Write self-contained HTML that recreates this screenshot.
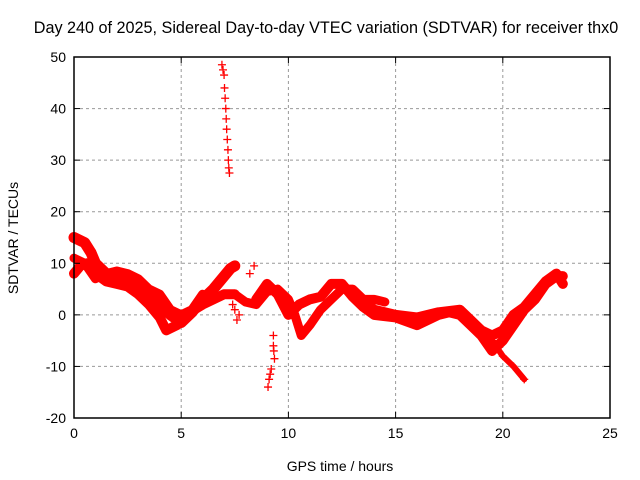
<!DOCTYPE html>
<html><head><meta charset="utf-8"><style>
body{margin:0;background:#fff}
svg{display:block;font-family:"Liberation Sans",sans-serif}
</style></head><body>
<svg id="chart" width="640" height="480">
<text x="326" y="33" font-size="16.2" text-anchor="middle">Day 240 of 2025, Sidereal Day-to-day VTEC variation (SDTVAR) for receiver thx0</text>
<g id="grid"></g><g id="series"></g><g id="axes"></g>
<text x="340" y="471" font-size="14" text-anchor="middle">GPS time / hours</text>
<text x="18" y="238" font-size="14" text-anchor="middle" transform="rotate(-90 18 238)">SDTVAR / TECUs</text>
</svg>
<script>
const xTicks=[0,5,10,15,20,25];
const yTicks=[-20,-10,0,10,20,30,40,50];
const trackA=[[0,15],[0.5,14],[0.8,12],[1,10],[1.5,8],[2,7.5],[2.5,7],[3,6],[3.5,4],[4,2],[4.5,0],[5,-1.5],[5.5,0.5],[6,3],[6.5,5],[7,7.5],[7.3,9],[7.5,9.5]];
const trackB=[[0,8],[0.3,9.5],[0.6,10],[1,8],[1.5,6.5],[2,6],[2.5,5.5],[3,4],[3.5,2],[4,-0.5],[4.3,-3],[4.8,-2],[5.2,0],[6,2],[6.5,3],[7,4],[7.5,4]];
const trackC=[[0,11],[0.5,10],[1,7],[1.5,8],[2,8.5],[2.5,8],[3,7],[3.5,5],[4,4],[4.5,1],[5,0],[5.5,1],[6,4]];
const trackD=[[7.5,4],[8,2.5],[8.5,2],[9,4.5],[9.5,5],[10,3],[10.3,0],[10.6,-4],[11,-2],[11.5,1],[12,3],[12.5,5],[13,5],[13.5,3],[14,3],[14.5,2.5]];
const trackE=[[8.5,3],[9,6],[9.5,4],[10,0],[10.5,2],[11,3],[11.5,3.5],[12,6],[12.5,6],[13,3.5],[13.5,1.5],[14,0],[15,-0.5],[16,-2],[16.5,-1],[17,0],[17.5,0.5],[18,0],[18.5,-2],[19,-4],[19.5,-7],[20,-5],[20.5,-2],[21,1],[21.5,3],[22,6],[22.5,7.5],[22.8,7.5]];
const trackF=[[13,4],[14,1],[15,0],[16,-0.5],[17,0.5],[18,1],[18.5,-1],[19,-3],[19.5,-4],[20,-3],[20.5,0],[21,1.5],[21.5,4],[22,6.5],[22.5,8],[22.8,6]];
const trackTail=[[19.5,-5],[20,-8],[20.5,-10],[21,-12.5]];
const spike=[[6.9,48.5],[6.95,47.5],[7.0,46.5],[7.02,44],[7.05,42],[7.08,40],[7.1,38],[7.12,36],[7.15,34],[7.18,32],[7.2,30],[7.22,28.5],[7.25,27.5]];
const drop=[[9.3,-4],[9.3,-6],[9.32,-7],[9.35,-8.5],[9.2,-10.5],[9.15,-11.5],[9.1,-12.5],[9.05,-14]];
const scatter=[[8.2,8],[8.4,9.5],[7.6,-1],[7.5,1],[7.7,0],[7.4,2]];
const X0=74,X1=610,Y0=418,Y1=57;
const px=x=>X0+(x-0)/(25-0)*(X1-X0);
const py=v=>Y0-(v+20)/70*(Y0-Y1);
const NS='http://www.w3.org/2000/svg';
function mk(t,a,p){const e=document.createElementNS(NS,t);for(const k in a)e.setAttribute(k,a[k]);p.appendChild(e);return e;}
const grid=document.getElementById('grid'),axes=document.getElementById('axes'),ser=document.getElementById('series');
xTicks.forEach(t=>{
 if(t>0&&t<25){const l=mk('line',{x1:px(t),x2:px(t),y1:Y1,y2:Y0,stroke:'#999','stroke-dasharray':'3,3'},grid);
 
 }
 const tx=mk('text',{x:px(t),y:Y0+20,'font-size':14,'text-anchor':'middle'},axes);tx.textContent=t;
 
 
 mk('line',{x1:px(t),x2:px(t),y1:Y0,y2:Y0-6,stroke:'#000'},axes);
 mk('line',{x1:px(t),x2:px(t),y1:Y1,y2:Y1+6,stroke:'#000'},axes);
});
yTicks.forEach(t=>{
 if(t>-20&&t<50){const l=mk('line',{x1:X0,x2:X1,y1:py(t),y2:py(t),stroke:'#999','stroke-dasharray':'3,3'},grid);
 
 }
 const tx=mk('text',{x:X0-8,y:py(t)+5,'font-size':14,'text-anchor':'end'},axes);tx.textContent=t;
 
 
 mk('line',{x1:X0,x2:X0+6,y1:py(t),y2:py(t),stroke:'#000'},axes);
 mk('line',{x1:X1,x2:X1-6,y1:py(t),y2:py(t),stroke:'#000'},axes);
});
const frame=mk('rect',{x:X0,y:Y1,width:X1-X0,height:Y0-Y1,fill:'none',stroke:'#000','stroke-width':1.5},axes);


function band(arr,w,name){
 const pl=mk('polyline',{points:arr.map(p=>px(p[0])+','+py(p[1])).join(' '),fill:'none',stroke:'#f00','stroke-width':w,'stroke-linejoin':'round','stroke-linecap':'round'},ser);
 
 
}
function marks(arr,name){
 arr.forEach(p=>{const x=px(p[0]),y=py(p[1]);
 const m=mk('path',{d:`M${x-4},${y}H${x+4}M${x},${y-4}V${y+4}`,stroke:'#f00','stroke-width':1.3},ser);
 
 });
}
band(trackA,11,'track-a');band(trackB,10,'track-b');band(trackC,9,'track-c');
band(trackD,9,'track-d');band(trackE,10,'track-e');band(trackF,10,'track-f');band(trackTail,6,'track-tail');
[trackA,trackB,trackC,trackD,trackE,trackF,trackTail].forEach(t=>marks(t,'data-point'));
marks(spike,'spike-point');marks(drop,'drop-point');marks(scatter,'scatter-point');
</script>
</body></html>
